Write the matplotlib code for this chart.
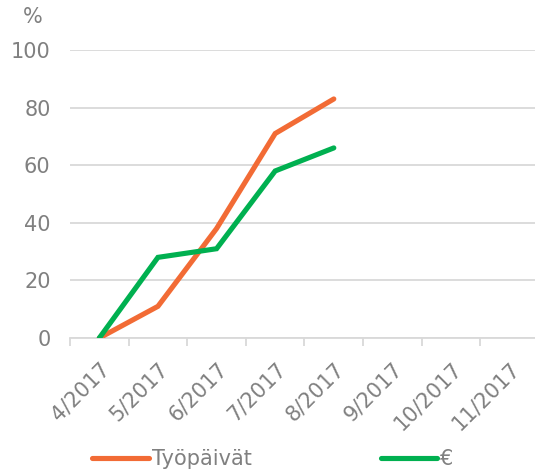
import numpy as np
import matplotlib
matplotlib.use("Agg")
import matplotlib.pyplot as plt
from matplotlib.lines import Line2D

# data
kuukaudet = ["4/2017", "5/2017", "6/2017", "7/2017", "8/2017", "9/2017", "10/2017", "11/2017"]
tyopaivat = [0, 11, 38, 71, 83]
euro = [0, 28, 31, 58, 66]

orange = "#f26b35"
green = "#00b050"
grey = "#808080"

plt.rcParams['font.family'] = ['DejaVu Sans']

fig = plt.figure(figsize=(5.35, 4.72), dpi=100)
ax = fig.add_axes([70/535, 134/472, 469/535, 288/472])

x = np.arange(len(kuukaudet))
ax.plot(x[:len(tyopaivat)], tyopaivat, color=orange, lw=3.7, solid_capstyle='round', solid_joinstyle='miter', zorder=3)
ax.plot(x[:len(euro)], euro, color=green, lw=3.7, solid_capstyle='round', solid_joinstyle='miter', zorder=3)

ax.set_xlim(-0.5, len(kuukaudet) - 0.5)
ax.set_ylim(0, 100)
ax.set_yticks(np.arange(0, 101, 20))
ax.yaxis.grid(True, color="#d9d9d9", lw=1.3)
ax.set_axisbelow(True)
for s in ["top", "right", "left"]:
    ax.spines[s].set_visible(False)
ax.spines["bottom"].set_color("#d9d9d9")
ax.spines["bottom"].set_linewidth(1.3)

ax.tick_params(axis='y', length=0, pad=14, labelsize=15, labelcolor=grey)
ax.set_xticks(x)
ax.set_xticklabels(kuukaudet, rotation=45, ha='right', rotation_mode='anchor', fontsize=15, color=grey)
ax.tick_params(axis='x', length=0, pad=15)
ax.set_xticks(np.arange(-0.5, len(kuukaudet)), minor=True)
ax.tick_params(axis='x', which='minor', length=6, width=1.3, color="#d9d9d9")

fig.text(33/535, 1 - 17/472, "%", fontsize=15, color=grey, ha='center', va='center')

handles = [Line2D([], [], color=orange, lw=3.7, solid_capstyle='round'),
           Line2D([], [], color=green, lw=3.7, solid_capstyle='round')]
leg = fig.legend(handles, ["Työpäivät", "€"], loc='center', bbox_to_anchor=(273/535, 1 - 459/472),
                 ncol=2, frameon=False, fontsize=15, labelcolor=grey, handlelength=2.7,
                 handletextpad=0.15, columnspacing=6.2)

fig.savefig("out.png", dpi=100)
